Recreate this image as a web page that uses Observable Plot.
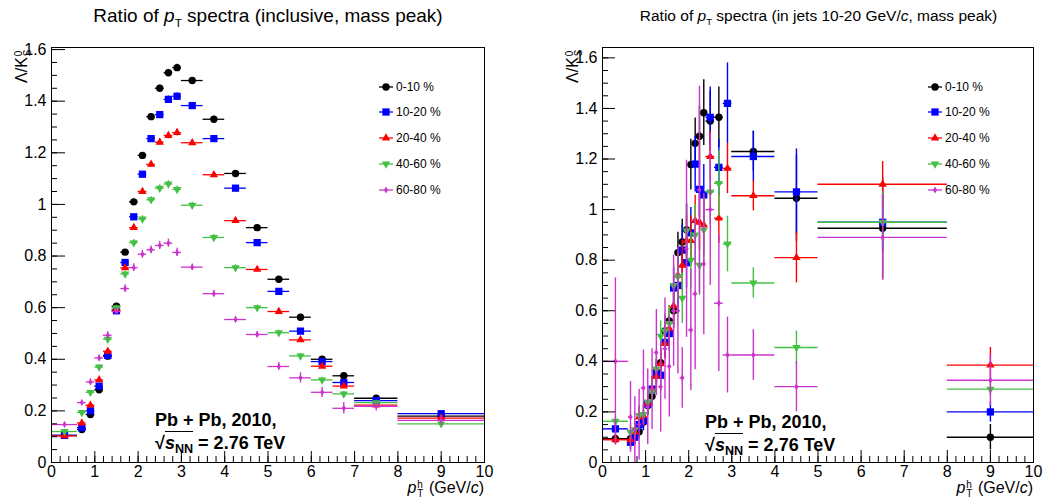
<!DOCTYPE html>
<html><head><meta charset="utf-8">
<script src="https://cdn.jsdelivr.net/npm/d3@7"></script>
<script src="https://cdn.jsdelivr.net/npm/@observablehq/plot@0.6"></script>
<style>
body{margin:0;background:#fff;font-family:"Liberation Sans",Arial,Helvetica,sans-serif;color:#000;}
#wrap{position:relative;width:1045px;height:501px;overflow:hidden;background:#fff;}
.abs{position:absolute;white-space:nowrap;}
.panel{position:absolute;top:0;}
.panel svg{overflow:visible;}
.title{text-align:center;line-height:1;}
.title sub{font-size:0.62em;vertical-align:-0.45em;line-height:0;}
.st{display:inline-flex;flex-direction:column;font-size:10px;line-height:9px;vertical-align:5px;margin:0 1px 0 1px;}
.ylab{position:absolute;transform-origin:0 0;transform:rotate(-90deg);font-size:16px;line-height:18px;white-space:nowrap;}
.xlab{position:absolute;font-size:16px;line-height:16px;white-space:nowrap;}
.ann{position:absolute;font-weight:bold;font-size:18px;line-height:18px;white-space:nowrap;}
.ann .rt{border-top:1.5px solid #000;padding-top:1px;}
.ann sub{font-size:0.7em;vertical-align:-0.3em;line-height:0;}
.leg{position:absolute;font-size:12px;line-height:14px;white-space:nowrap;display:flex;align-items:center;}
.leg svg{margin-right:3px;}
</style></head><body><div id="wrap"></div>
<script>
// ---------------- data ----------------
const centralityLabels = ["0-10 %", "10-20 %", "20-40 %", "40-60 %", "60-80 %"];
const seriesColors = ["#000000", "#0000ff", "#ff0000", "#44c044", "#cc33cc"];

const xTickLabels = [0,1,2,3,4,5,6,7,8,9,10];
const yTickLabels = [0,0.2,0.4,0.6,0.8,1,1.2,1.4,1.6];

// Left panel (inclusive): bin edges in pT
const inclEdges = [0,0.6,0.8,1.0,1.2,1.4,1.6,1.8,2.0,2.2,2.4,2.6,2.8,3.0,3.5,4.0,4.5,5.0,5.5,6.0,6.5,7.0,8.0,10.0];
const incl_0_10  = [0.105,0.128,0.186,0.282,0.412,0.606,0.815,1.01,1.19,1.34,1.45,1.51,1.53,1.48,1.33,1.12,0.91,0.71,0.563,0.40,0.336,0.249,0.18];
const incl_10_20 = [0.105,0.135,0.200,0.296,0.415,0.588,0.775,0.952,1.117,1.255,1.348,1.407,1.419,1.383,1.255,1.063,0.852,0.663,0.509,0.391,0.31,0.24,0.189];
const incl_20_40 = [0.103,0.153,0.222,0.320,0.431,0.592,0.754,0.91,1.05,1.155,1.241,1.267,1.278,1.239,1.115,0.937,0.748,0.585,0.475,0.373,0.296,0.222,0.172];
const incl_40_60 = [0.120,0.194,0.272,0.370,0.478,0.600,0.731,0.852,0.944,1.018,1.063,1.079,1.058,0.997,0.872,0.755,0.600,0.503,0.413,0.320,0.266,0.232,0.150];
const incl_60_80 = [0.147,0.232,0.312,0.405,0.493,0.585,0.674,0.755,0.807,0.824,0.841,0.850,0.814,0.757,0.654,0.554,0.496,0.372,0.328,0.272,0.210,0.218,0.163];
const inclErr_0_10  = [0.005,0.004,0.005,0.006,0.007,0.008,0.009,0.010,0.011,0.012,0.012,0.013,0.013,0.010,0.010,0.010,0.009,0.009,0.008,0.008,0.008,0.007,0.008];
const inclErr_10_20 = [0.005,0.004,0.005,0.006,0.007,0.008,0.009,0.010,0.011,0.012,0.012,0.013,0.013,0.010,0.010,0.010,0.009,0.009,0.008,0.008,0.008,0.007,0.008];
const inclErr_20_40 = [0.006,0.005,0.006,0.007,0.008,0.009,0.010,0.011,0.012,0.012,0.012,0.013,0.013,0.010,0.010,0.010,0.009,0.009,0.009,0.009,0.009,0.008,0.009];
const inclErr_40_60 = [0.007,0.006,0.007,0.008,0.009,0.010,0.011,0.012,0.012,0.012,0.013,0.013,0.013,0.011,0.011,0.011,0.010,0.010,0.010,0.010,0.010,0.009,0.010];
const inclErr_60_80 = [0.010,0.010,0.012,0.012,0.014,0.015,0.015,0.015,0.015,0.015,0.016,0.016,0.016,0.012,0.012,0.012,0.012,0.015,0.020,0.020,0.022,0.018,0.020];

// Right panel (in jets 10-20 GeV/c): bin edges in pT
const jetEdges = [0,0.6,0.7,0.8,0.9,1.0,1.1,1.2,1.3,1.4,1.5,1.6,1.7,1.8,1.9,2.0,2.1,2.2,2.3,2.4,2.6,2.8,3.0,4.0,5.0,8.0,10.0];
const jet_0_10  = [0.094,0.094,0.120,0.122,0.160,0.225,0.262,0.360,0.395,0.520,0.560,0.600,0.830,0.872,0.920,1.178,1.262,1.290,1.383,1.350,1.365,null,1.230,1.045,0.926,0.100];
const jet_10_20 = [0.133,0.080,0.100,0.150,0.165,0.231,0.290,0.350,0.345,0.475,0.510,0.690,0.700,0.840,0.790,0.908,1.180,1.080,1.058,1.365,1.167,1.420,1.210,1.070,0.950,0.200];
const jet_20_40 = [0.090,0.090,0.120,0.180,0.185,0.235,0.290,0.340,0.390,0.470,0.530,0.620,0.740,0.780,0.877,0.877,0.957,0.950,0.940,1.210,0.966,1.163,1.055,0.810,1.100,0.385];
const jet_40_60 = [0.163,0.120,0.130,0.186,0.190,0.240,0.280,0.370,0.500,0.520,0.550,0.700,0.735,0.650,0.917,0.800,0.900,0.780,0.920,1.070,1.104,0.864,0.710,0.455,0.950,0.290];
const jet_60_80 = [0.400,0.180,0.130,0.150,0.295,0.220,0.290,0.435,0.300,0.450,0.380,0.600,0.600,0.335,0.845,0.524,0.667,1.078,0.785,1.000,0.630,0.425,0.425,0.300,0.890,0.325];
const jetErr_0_10  = [0.02,0.03,0.03,0.03,0.03,0.04,0.04,0.05,0.05,0.06,0.06,0.07,0.08,0.09,0.10,0.10,0.10,0.12,0.13,0.12,0.12,null,0.08,0.17,0.20,0.05];
const jetErr_10_20 = [0.02,0.03,0.03,0.03,0.04,0.04,0.05,0.05,0.06,0.06,0.07,0.08,0.09,0.10,0.10,0.10,0.11,0.11,0.12,0.12,0.11,0.16,0.10,0.17,0.12,0.04];
const jetErr_20_40 = [0.02,0.03,0.03,0.04,0.04,0.04,0.05,0.05,0.06,0.06,0.07,0.08,0.09,0.10,0.10,0.10,0.10,0.11,0.12,0.10,0.10,0.10,0.06,0.10,0.09,0.07];
const jetErr_40_60 = [0.02,0.03,0.03,0.04,0.04,0.05,0.05,0.06,0.06,0.07,0.07,0.08,0.09,0.10,0.11,0.11,0.12,0.12,0.13,0.13,0.13,0.11,0.06,0.065,0.12,0.03];
const jetErr_60_80 = [0.33,0.14,0.13,0.14,0.15,0.15,0.16,0.17,0.18,0.20,0.20,0.22,0.25,0.12,0.35,0.24,0.30,0.41,0.28,0.30,0.27,0.15,0.10,0.10,0.17,0.10];

// ---------------- styles ----------------
const markerStyles = [
  {symbol:"circle", r:3.7, rotate:0},
  {symbol:"square", r:4.1, rotate:0},
  {symbol:"triangle", r:3.1, rotate:0},
  {symbol:"triangle", r:3.1, rotate:180},
  {symbol:"diamond", r:2.1, rotate:0}
];

function rowsFor(edges, ys, es) {
  const out = [];
  ys.forEach((v, i) => {
    if (v == null) return;
    const e = es[i] ?? 0;
    out.push({x:(edges[i]+edges[i+1])/2, xlo:edges[i], xhi:edges[i+1], y:v, ylo:v-e, yhi:v+e});
  });
  return out;
}

function makePanel({edges, values, errors, yMax, width, ml, mr, yMaj, yMin, xMaj, xMin, errWidth}) {
  const mt = 47, mb = 39, H = 501;
  const fw = width - ml - mr, fh = H - mt - mb;
  const marks = [];
  values.forEach((vals, k) => {
    const rows = rowsFor(edges, vals, errors[k]);
    const c = seriesColors[k], m = markerStyles[k];
    marks.push(
      Plot.ruleY(rows, {y:"y", x1:"xlo", x2:"xhi", stroke:c, strokeWidth:errWidth, clip:true}),
      Plot.ruleX(rows, {x:"x", y1:"ylo", y2:"yhi", stroke:c, strokeWidth:errWidth, clip:true}),
      Plot.dot(rows, {x:"x", y:"y", symbol:m.symbol, r:m.r, rotate:m.rotate, fill:c, stroke:"none", clip:true})
    );
  });
  const yMinor = d3.range(0, yMax + 1e-9, 0.05);
  const xMinor = d3.range(0, 10 + 1e-9, 0.2);
  marks.push(
    Plot.tickY(yMinor, {y:d=>d, insetRight: fw - yMin, stroke:"#000"}),
    Plot.tickY(yTickLabels, {y:d=>d, insetRight: fw - yMaj, stroke:"#000"}),
    Plot.tickX(xMinor, {x:d=>d, insetTop: fh - xMin, stroke:"#000"}),
    Plot.tickX(xTickLabels, {x:d=>d, insetTop: fh - xMaj, stroke:"#000"}),
    Plot.axisY({ticks: yTickLabels, tickSize:0, tickPadding:5, tickFormat:d3.format("~g"), fontSize:16}),
    Plot.axisX({ticks: xTickLabels, tickSize:0, tickPadding:3, tickFormat:d3.format("~g"), fontSize:16}),
    Plot.frame({stroke:"#000", strokeWidth:1})
  );
  return Plot.plot({
    width, height:H, marginLeft:ml, marginRight:mr, marginTop:mt, marginBottom:mb,
    x:{domain:[0,10]}, y:{domain:[0,yMax]},
    style:{fontFamily:'"Liberation Sans", Arial, sans-serif', fontSize:"16px", color:"#000", background:"transparent", overflow:"visible"},
    marks
  });
}

const wrap = document.getElementById("wrap");

const left = makePanel({
  edges: inclEdges,
  values: [incl_0_10, incl_10_20, incl_20_40, incl_40_60, incl_60_80],
  errors: [inclErr_0_10, inclErr_10_20, inclErr_20_40, inclErr_40_60, inclErr_60_80],
  yMax: 1.608, width: 522, ml: 51, mr: 38, yMaj: 14, yMin: 6, xMaj: 11, xMin: 6, errWidth: 1.3
});
const leftDiv = document.createElement("div");
leftDiv.className = "panel"; leftDiv.style.left = "0px";
leftDiv.appendChild(left); wrap.appendChild(leftDiv);

const right = makePanel({
  edges: jetEdges,
  values: [jet_0_10, jet_10_20, jet_20_40, jet_40_60, jet_60_80],
  errors: [jetErr_0_10, jetErr_10_20, jetErr_20_40, jetErr_40_60, jetErr_60_80],
  yMax: 1.641, width: 523, ml: 80, mr: 12, yMaj: 13, yMin: 6, xMaj: 12, xMin: 6, errWidth: 1.4
});
const rightDiv = document.createElement("div");
rightDiv.className = "panel"; rightDiv.style.left = "522px";
rightDiv.appendChild(right); wrap.appendChild(rightDiv);

// ---------------- text overlays ----------------
function addHTML(html) { wrap.insertAdjacentHTML("beforeend", html); }

addHTML(`<div class="abs title" style="left:0;width:536px;top:6px;font-size:19px;">Ratio of <i>p</i><sub>T</sub> spectra (inclusive, mass peak)</div>`);
addHTML(`<div class="abs title" style="left:522px;width:593px;top:8px;font-size:15.5px;">Ratio of <i>p</i><sub>T</sub> spectra (in jets 10-20 GeV/<i>c</i>, mass peak)</div>`);

const ylabHTML = `Λ/K<span class="st"><span>0</span><span>S</span></span>`;
addHTML(`<div class="ylab" style="left:13px;top:83px;">${ylabHTML}</div>`);
addHTML(`<div class="ylab" style="left:564px;top:83px;">${ylabHTML}</div>`);

const xlabHTML = `<i>p</i><span class="st"><span>h</span><span>T</span></span> (GeV/<i>c</i>)`;
addHTML(`<div class="xlab" style="right:${1045-484}px;top:480px;">${xlabHTML}</div>`);
addHTML(`<div class="xlab" style="right:${1045-1033}px;top:480px;">${xlabHTML}</div>`);

function annotation(x, y) {
  addHTML(`<div class="ann" style="left:${x}px;top:${y}px;">Pb + Pb, 2010,</div>`);
  addHTML(`<div class="ann" style="left:${x}px;top:${y+23}px;">√<span class="rt"><i>s</i><sub>NN</sub></span> = 2.76 TeV</div>`);
}
annotation(155, 411);
annotation(705, 413);

function legend(xLine) {
  centralityLabels.forEach((lab, k) => {
    const cy = [87, 112, 138, 164, 190][k];
    const m = markerStyles[k], c = seriesColors[k];
    const sym = d3.symbol().type({circle:d3.symbolCircle, square:d3.symbolSquare, triangle:d3.symbolTriangle, diamond:d3.symbolDiamond}[m.symbol]).size(Math.PI*m.r*m.r)();
    addHTML(`<div class="leg" style="left:${xLine}px;top:${cy-7}px;"><svg width="14" height="14" viewBox="-7 -7 14 14"><line x1="-7" x2="7" y1="0" y2="0" stroke="${c}" stroke-width="1.3"/><path d="${sym}" fill="${c}" transform="rotate(${m.rotate})"/></svg><span>${lab}</span></div>`);
  });
}
legend(379);
legend(928);
</script></body></html>
